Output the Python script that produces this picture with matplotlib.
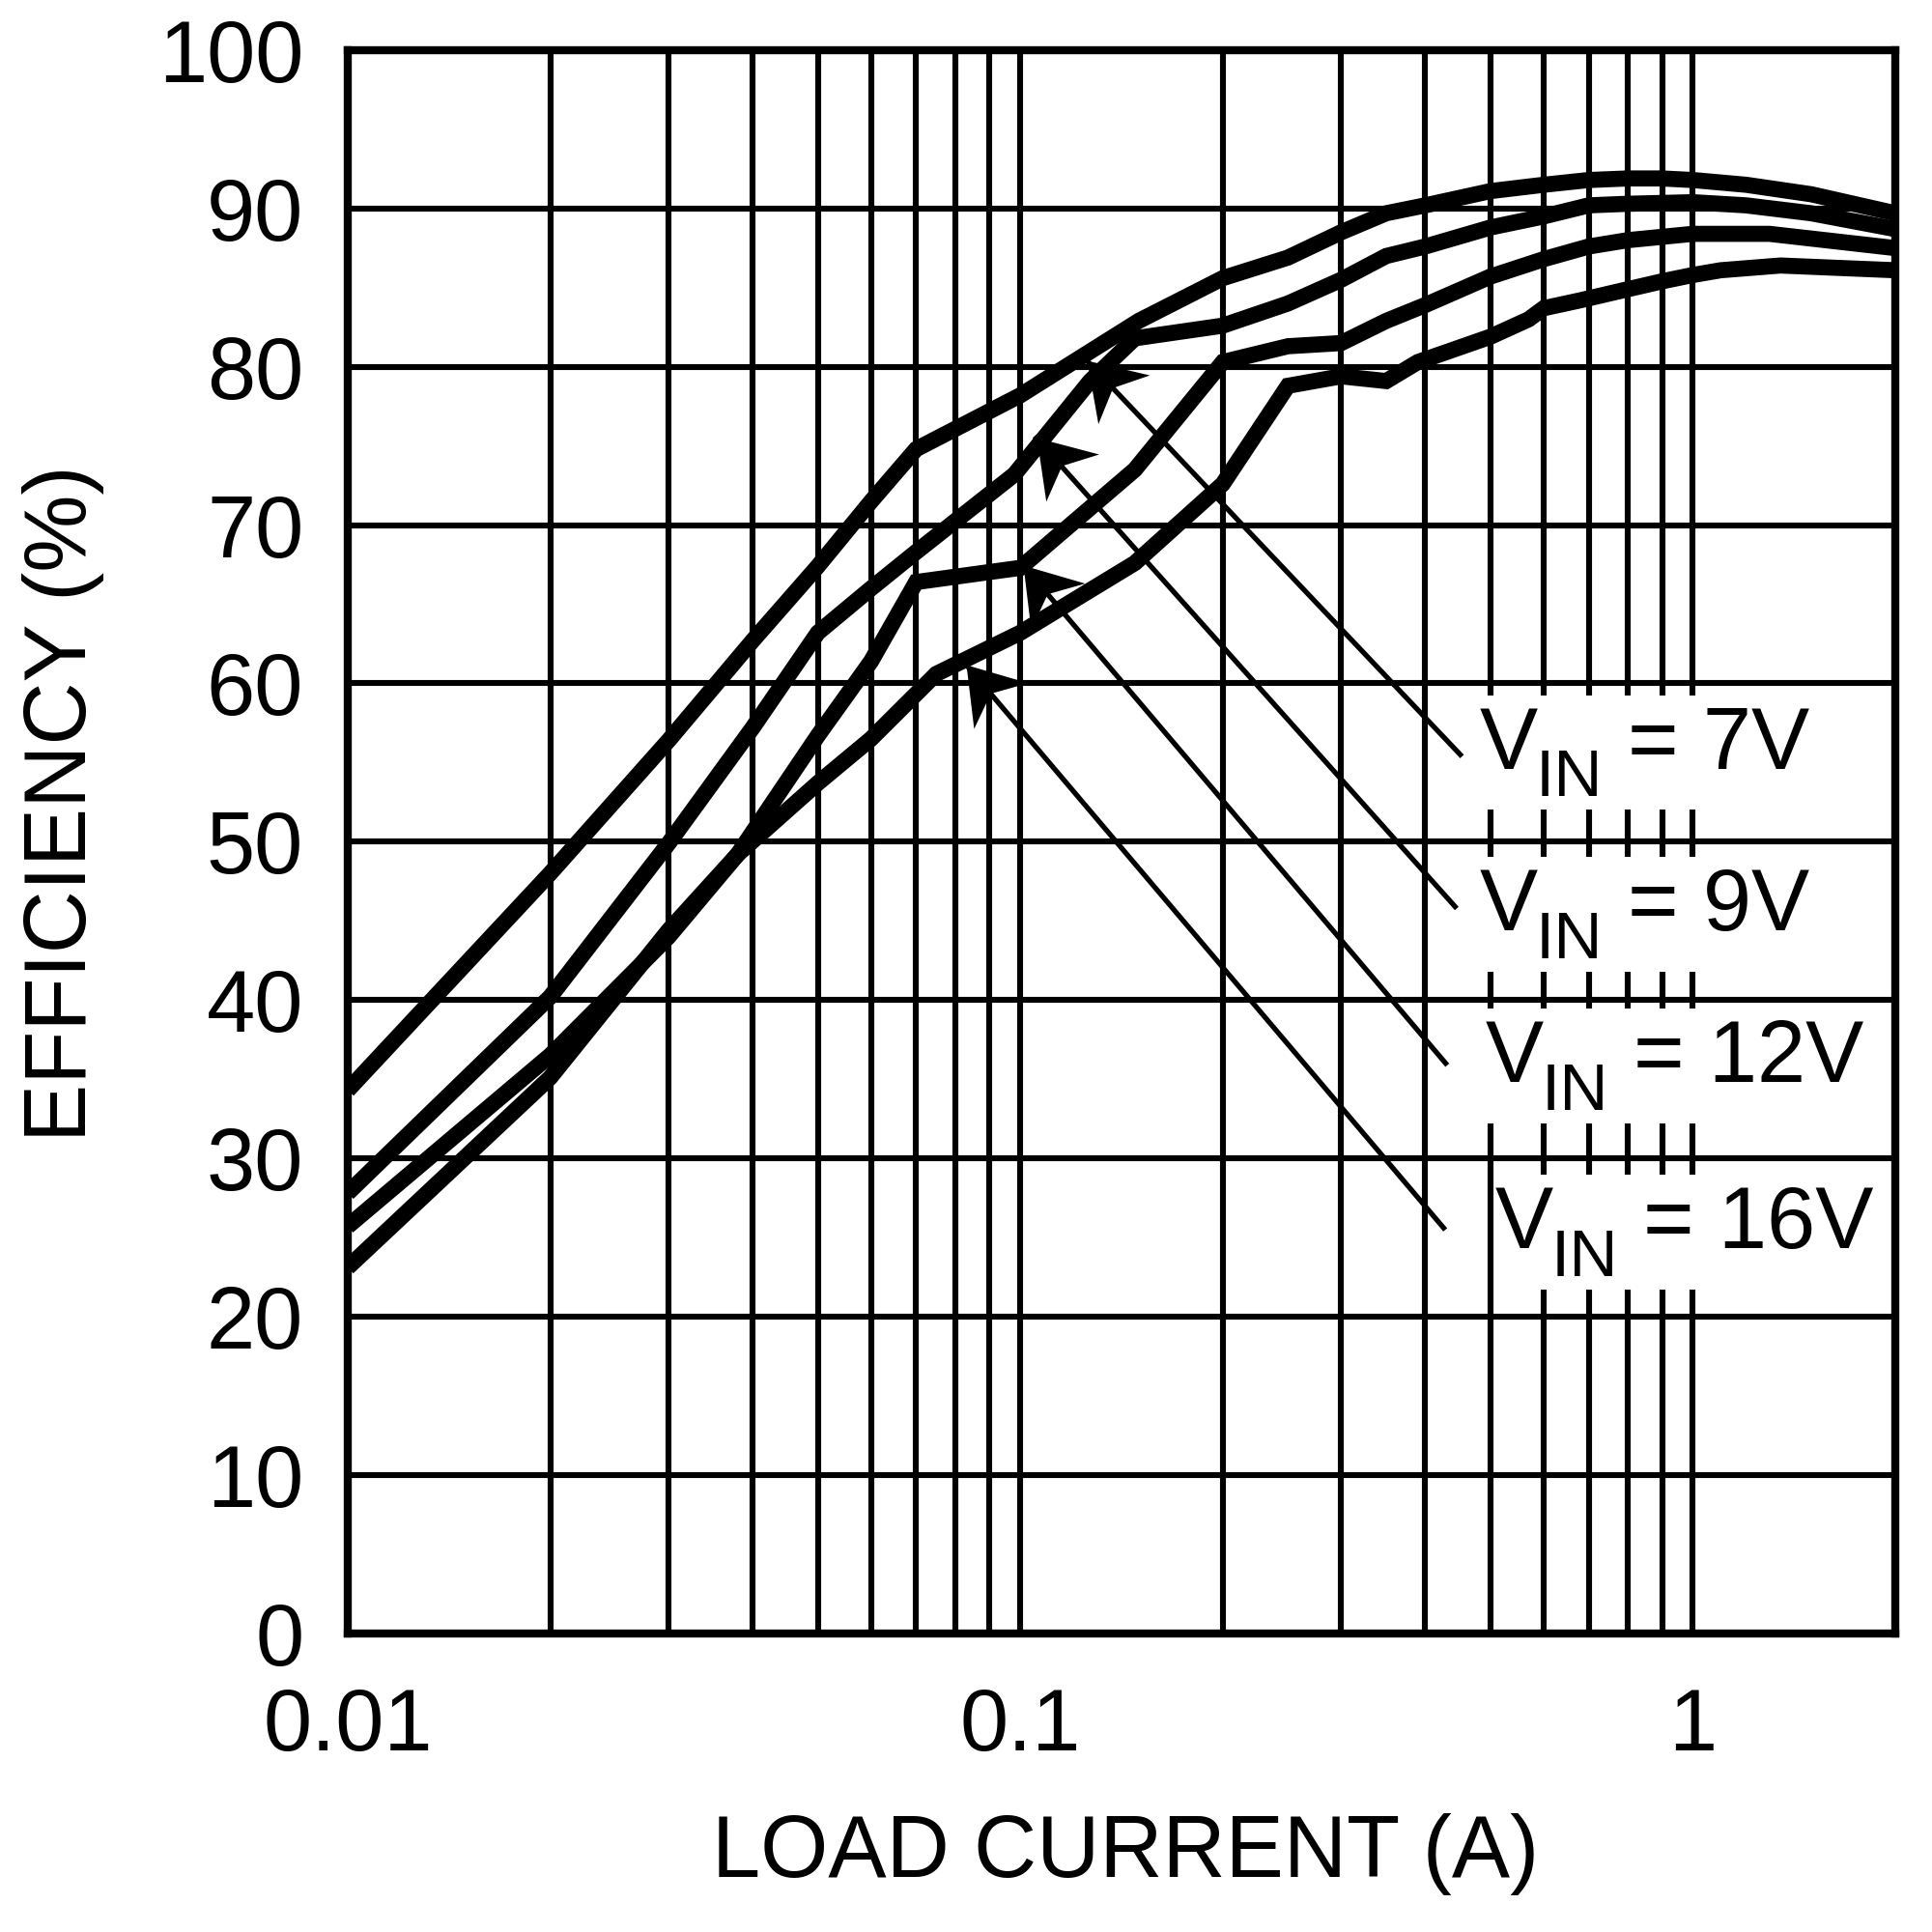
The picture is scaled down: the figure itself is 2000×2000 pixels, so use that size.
import math
import matplotlib
matplotlib.use("Agg")
import matplotlib.pyplot as plt
from matplotlib.ticker import FixedLocator, FixedFormatter, NullFormatter
from matplotlib.markers import MarkerStyle
from matplotlib.patches import Rectangle
from matplotlib.path import Path
from matplotlib.transforms import Affine2D, Bbox

plt.rcParams['font.family'] = ['Liberation Sans', 'DejaVu Sans']

# efficiency curves
load_7v = [0.01, 0.02, 0.03, 0.04, 0.05, 0.06, 0.07, 0.1, 0.15, 0.2, 0.25, 0.3,
           0.35, 0.4, 0.5, 0.6, 0.7, 0.8, 0.9, 1.0, 1.2, 1.5, 2.0]
eff_7v = [34.3, 48.0, 56.4, 62.7, 67.4, 71.5, 74.8, 78.2, 82.9, 85.6, 86.9, 88.5,
          89.7, 90.2, 91.1, 91.5, 91.8, 91.9, 91.9, 91.8, 91.5, 90.9, 89.7]

load_9v = [0.01, 0.02, 0.03, 0.04, 0.05, 0.06, 0.07, 0.098, 0.127, 0.148, 0.2, 0.25,
           0.3, 0.35, 0.4, 0.5, 0.6, 0.7, 0.8, 1.0, 1.2, 1.5, 2.0]
eff_9v = [27.8, 40.2, 49.9, 57.2, 63.2, 66.0, 68.3, 73.2, 79.1, 81.8, 82.6, 84.0,
          85.5, 87.0, 87.6, 88.8, 89.5, 90.2, 90.3, 90.4, 90.2, 89.7, 88.7]

load_12v = [0.01, 0.02, 0.03, 0.038, 0.05, 0.06, 0.07, 0.1, 0.148, 0.2, 0.25, 0.3,
            0.35, 0.4, 0.5, 0.6, 0.7, 0.8, 1.0, 1.3, 2.0]
eff_12v = [25.7, 36.5, 44.0, 49.2, 56.7, 61.4, 66.4, 67.3, 73.5, 80.3, 81.3, 81.5,
           82.9, 83.9, 85.7, 86.8, 87.6, 88.0, 88.4, 88.4, 87.5]

load_16v = [0.01, 0.02, 0.03, 0.038, 0.05, 0.06, 0.075, 0.1, 0.148, 0.2, 0.25, 0.3,
            0.35, 0.39, 0.5, 0.57, 0.6, 0.68, 0.8, 0.9, 1.0, 1.1, 1.35, 2.0]
eff_16v = [23.1, 35.1, 44.4, 49.2, 53.7, 56.5, 60.6, 63.2, 67.6, 72.6, 78.8, 79.4,
           79.1, 80.3, 81.9, 83.0, 83.7, 84.2, 84.9, 85.4, 85.8, 86.1, 86.4, 86.1]

# callouts: label text, arrow tip on the curve, leader line end, label anchor
vin_labels = ['7V', '9V', '12V', '16V']
tip_x = [0.1255, 0.1056, 0.1008, 0.083]
tip_y = [80.4, 75.5, 67.5, 61.2]
leader_x = [0.451, 0.443, 0.429, 0.426]
leader_y = [55.5, 45.9, 36.0, 25.6]
label_x = [0.482, 0.482, 0.491, 0.508]
label_y = [54.6, 44.4, 34.8, 24.3]

x_major = [0.01, 0.1, 1]
x_major_labels = ['0.01', '0.1', '1']
x_minor = [k * 0.01 for k in range(2, 10)] + [k * 0.1 for k in range(2, 10)]
y_ticks = list(range(0, 101, 10))

fig = plt.figure(figsize=(20, 20), dpi=100)
ax = fig.add_axes([0.18, 0.1547, 0.801, 0.8193])

for xs, ys in [(load_7v, eff_7v), (load_9v, eff_9v), (load_12v, eff_12v), (load_16v, eff_16v)]:
    ax.plot(xs, ys, color='black', lw=12, solid_joinstyle='miter',
            solid_capstyle='butt', zorder=3)

ax.set_xscale('log')
ax.set_xlim(0.01, 2)
ax.set_ylim(0, 100)
ax.xaxis.set_major_locator(FixedLocator(x_major))
ax.xaxis.set_major_formatter(FixedFormatter(x_major_labels))
ax.xaxis.set_minor_locator(FixedLocator(x_minor))
ax.xaxis.set_minor_formatter(NullFormatter())
ax.set_yticks(y_ticks)
ax.set_yticklabels([str(v) for v in y_ticks])

ax.grid(which='both', color='black', lw=4.4)
ax.set_axisbelow(True)
ax.tick_params(which='both', length=0, labelsize=65)
ax.tick_params(axis='y', pad=33)
ax.tick_params(axis='x', pad=40)
for s in ax.spines.values():
    s.set_linewidth(6)

# notched arrow head pointing along +x, tip at the origin
head = Path([(0, 0), (-1.0, 0.66), (-0.7, 0), (-1.0, -0.66), (0, 0)],
            [Path.MOVETO, Path.LINETO, Path.LINETO, Path.LINETO, Path.CLOSEPOLY])

pieces = []
for i in range(len(vin_labels)):
    ax.plot([leader_x[i], tip_x[i]], [leader_y[i], tip_y[i]], color='black',
            lw=3.8, zorder=4)
    p0 = ax.transData.transform((leader_x[i], leader_y[i]))
    p1 = ax.transData.transform((tip_x[i], tip_y[i]))
    ang = math.degrees(math.atan2(p1[1] - p0[1], p1[0] - p0[0]))
    ax.plot([tip_x[i]], [tip_y[i]], linestyle='none', color='black', zorder=4,
            marker=MarkerStyle(head, transform=Affine2D().rotate_deg(ang)),
            markersize=80, markeredgewidth=0)

    kw = dict(xy=(label_x[i], label_y[i]), textcoords='offset points',
              ha='left', va='baseline', zorder=6)
    t1 = ax.annotate('V', xytext=(0, 0), fontsize=65, **kw)
    t2 = ax.annotate('IN', xytext=(42, -20.5), fontsize=50, **kw)
    t3 = ax.annotate('= ' + vin_labels[i], xytext=(110.5, 0), fontsize=65, **kw)
    pieces.append((t1, t2, t3))

# white boxes behind the labels, sized from the rendered text
renderer = fig.canvas.get_renderer()
to_axes = ax.transAxes.inverted()
for group in pieces:
    bb = Bbox.union([t.get_window_extent(renderer) for t in group])
    x0, y0 = to_axes.transform((bb.x0 - 1, bb.y0))
    x1, y1 = to_axes.transform((bb.x1 + 6, bb.y1 + 10))
    ax.add_patch(Rectangle((x0, y0), x1 - x0, y1 - y0, transform=ax.transAxes,
                           facecolor='white', edgecolor='none', zorder=5,
                           clip_on=False))

fig.text(0.5825, 0.04, 'LOAD CURRENT (A)', ha='center', va='center', fontsize=65)
fig.text(0.033, 0.584, 'EFFICIENCY (%)', ha='center', va='center', fontsize=65,
         rotation=90)

fig.savefig('out.png', dpi=100)
